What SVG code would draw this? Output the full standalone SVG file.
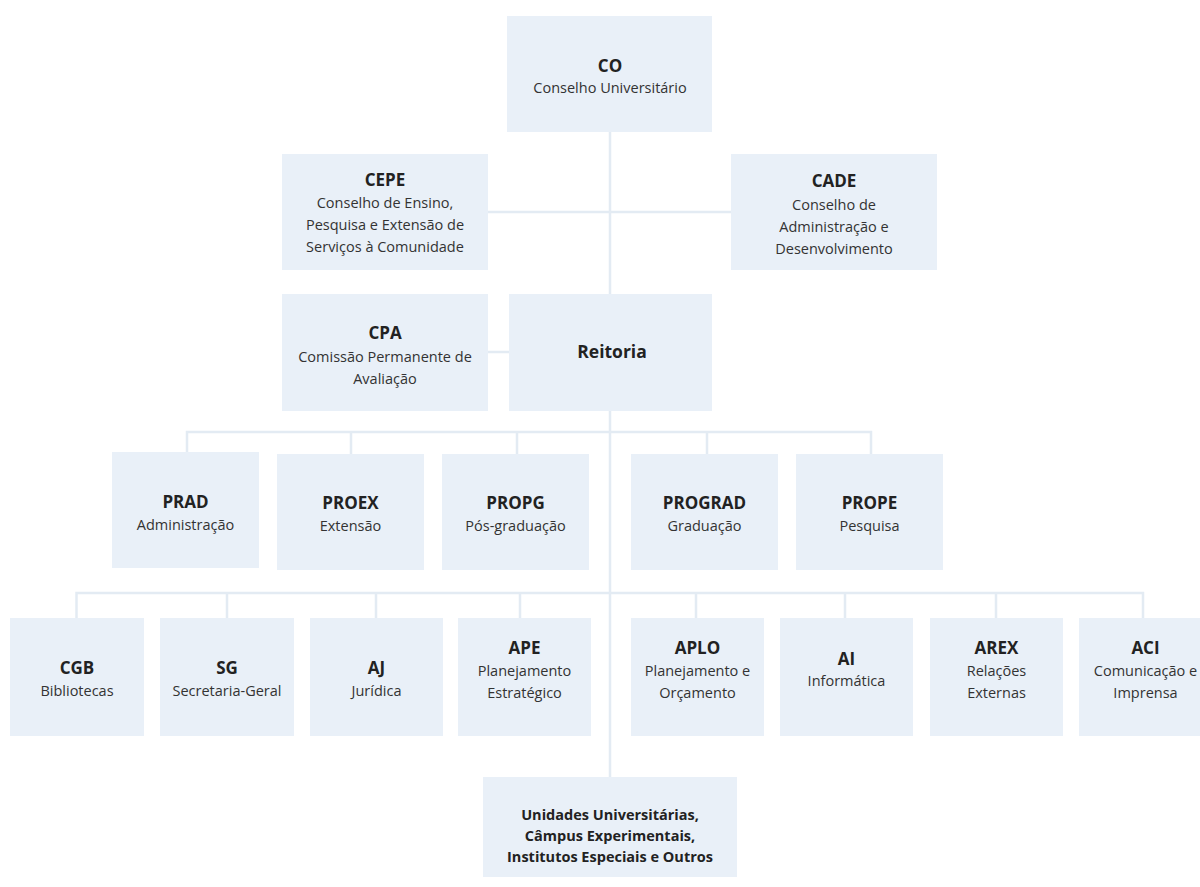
<svg xmlns="http://www.w3.org/2000/svg" width="1200" height="887" viewBox="0 0 1200 887">
<style>
.box{fill:#e9f0f8}
.t{font-family:"Open Sans","Noto Sans","Liberation Sans",sans-serif;font-weight:bold;font-size:17px;fill:#222;text-anchor:middle}
.s{font-family:"Open Sans","Noto Sans","Liberation Sans",sans-serif;font-size:14.5px;fill:#333;text-anchor:middle}
.u{font-family:"Open Sans","Noto Sans","Liberation Sans",sans-serif;font-weight:bold;font-size:14.5px;fill:#222;text-anchor:middle}
.ln{stroke:#e3ebf3;stroke-width:2.5;fill:none}
</style>
<rect width="1200" height="887" fill="#ffffff"/>
<g id="connectors">
<path class="ln" d="M610 132 V777"/>
<path class="ln" d="M488 212 H731"/>
<path class="ln" d="M488 352 H509"/>
<path class="ln" d="M187 452 V432 H871 V454 M351 432 V454 M517 432 V454 M707 432 V454"/>
<path class="ln" d="M76.5 618 V593 H1143 V618 M227 593 V618 M376 593 V618 M520 593 V618 M696 593 V618 M845 593 V618 M996 593 V618"/>
</g>
<g id="co"><rect class="box" x="507" y="16" width="205" height="116"/><text class="t" x="610" y="72">CO</text><text class="s" x="610" y="93">Conselho Universitário</text></g>
<g id="cepe"><rect class="box" x="282" y="154" width="206" height="116"/><text class="t" x="385" y="186">CEPE</text><text class="s" x="385" y="208">Conselho de Ensino,</text><text class="s" x="385" y="230">Pesquisa e Extensão de</text><text class="s" x="385" y="252">Serviços à Comunidade</text></g>
<g id="cade"><rect class="box" x="731" y="154" width="206" height="116"/><text class="t" x="834" y="187">CADE</text><text class="s" x="834" y="210">Conselho de</text><text class="s" x="834" y="232">Administração e</text><text class="s" x="834" y="254">Desenvolvimento</text></g>
<g id="cpa"><rect class="box" x="282" y="294" width="206" height="117"/><text class="t" x="385" y="339">CPA</text><text class="s" x="385" y="362">Comissão Permanente de</text><text class="s" x="385" y="384">Avaliação</text></g>
<g id="reitoria"><rect class="box" x="509" y="294" width="203" height="117"/><text class="t" x="612" y="358" style="font-size:17.5px">Reitoria</text></g>
<g id="prad"><rect class="box" x="112" y="452" width="147" height="116"/><text class="t" x="185.5" y="508">PRAD</text><text class="s" x="185.5" y="530">Administração</text></g>
<g id="proex"><rect class="box" x="277" y="454" width="147" height="116"/><text class="t" x="350.5" y="509">PROEX</text><text class="s" x="350.5" y="531">Extensão</text></g>
<g id="propg"><rect class="box" x="442" y="454" width="147" height="116"/><text class="t" x="515.5" y="509">PROPG</text><text class="s" x="515.5" y="531">Pós-graduação</text></g>
<g id="prograd"><rect class="box" x="631" y="454" width="147" height="116"/><text class="t" x="704.5" y="509">PROGRAD</text><text class="s" x="704.5" y="531">Graduação</text></g>
<g id="prope"><rect class="box" x="796" y="454" width="147" height="116"/><text class="t" x="869.5" y="509">PROPE</text><text class="s" x="869.5" y="531">Pesquisa</text></g>
<g id="cgb"><rect class="box" x="10" y="618" width="134" height="118"/><text class="t" x="77" y="674">CGB</text><text class="s" x="77" y="696">Bibliotecas</text></g>
<g id="sg"><rect class="box" x="160" y="618" width="134" height="118"/><text class="t" x="227" y="674">SG</text><text class="s" x="227" y="696">Secretaria-Geral</text></g>
<g id="aj"><rect class="box" x="310" y="618" width="133" height="118"/><text class="t" x="376.5" y="674">AJ</text><text class="s" x="376.5" y="696">Jurídica</text></g>
<g id="ape"><rect class="box" x="458" y="618" width="133" height="118"/><text class="t" x="524.5" y="654">APE</text><text class="s" x="524.5" y="676">Planejamento</text><text class="s" x="524.5" y="698">Estratégico</text></g>
<g id="aplo"><rect class="box" x="631" y="618" width="133" height="118"/><text class="t" x="697.5" y="654">APLO</text><text class="s" x="697.5" y="676">Planejamento e</text><text class="s" x="697.5" y="698">Orçamento</text></g>
<g id="ai"><rect class="box" x="780" y="618" width="133" height="118"/><text class="t" x="846.5" y="665">AI</text><text class="s" x="846.5" y="686">Informática</text></g>
<g id="arex"><rect class="box" x="930" y="618" width="133" height="118"/><text class="t" x="996.5" y="654">AREX</text><text class="s" x="996.5" y="676">Relações</text><text class="s" x="996.5" y="698">Externas</text></g>
<g id="aci"><rect class="box" x="1079" y="618" width="133" height="118"/><text class="t" x="1145.5" y="654">ACI</text><text class="s" x="1145.5" y="676">Comunicação e</text><text class="s" x="1145.5" y="698">Imprensa</text></g>
<g id="unidades"><rect class="box" x="483" y="777" width="254" height="100"/><text class="u" x="610" y="820">Unidades Universitárias,</text><text class="u" x="610" y="841">Câmpus Experimentais,</text><text class="u" x="610" y="862">Institutos Especiais e Outros</text></g>
</svg>
